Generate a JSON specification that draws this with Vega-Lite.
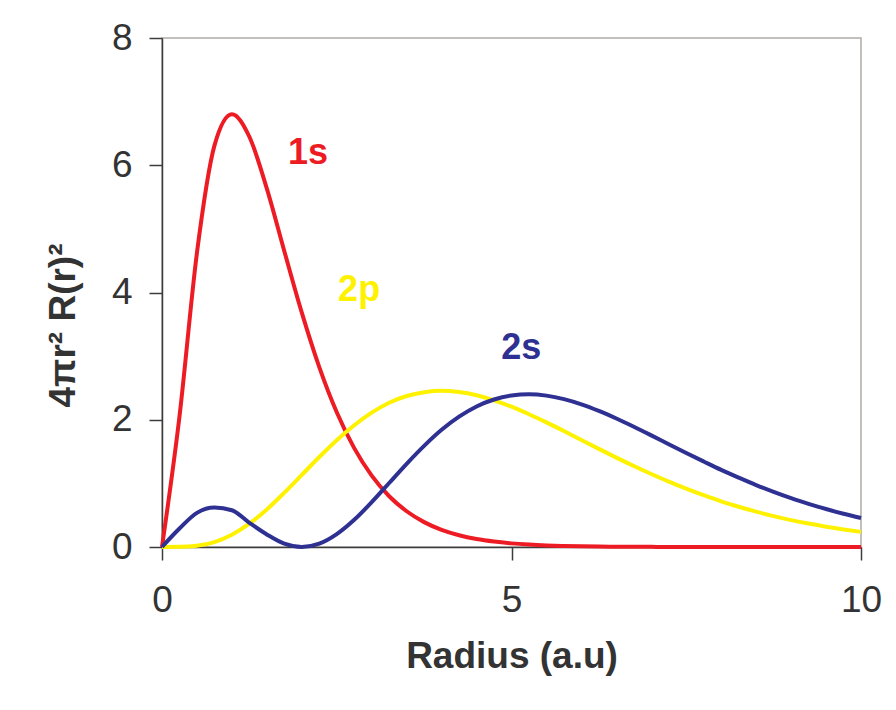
{
  "$schema": "https://vega.github.io/schema/vega-lite/v6.json",
  "width": 699,
  "height": 509,
  "autosize": "none",
  "padding": {"left": 162, "top": 38, "right": 35, "bottom": 163},
  "background": "white",
  "config": {
    "view": {"stroke": "#b3aaa6", "strokeWidth": 1.5},
    "font": "Liberation Sans",
    "axis": {
      "grid": false,
      "domainColor": "#3c3c3c",
      "domainWidth": 1.5,
      "tickColor": "#3c3c3c",
      "tickWidth": 1.5,
      "tickSize": 13,
      "labelFont": "Liberation Sans",
      "labelFontSize": 37,
      "labelColor": "#333333",
      "labelOverlap": false,
      "labelFlush": false,
      "format": "d",
      "titleFont": "Liberation Sans",
      "titleFontSize": 37,
      "titleFontWeight": "bold",
      "titleColor": "#333333"
    }
  },
  "layer": [
    {
      "data": {
        "values": [
          {"r": 0, "1s": 0, "2s": 0, "2p": 0},
          {"r": 0.25, "1s": 2.05, "2s": 0.29, "2p": 0.002},
          {"r": 0.5, "1s": 4.623, "2s": 0.536, "2p": 0.02},
          {"r": 0.75, "1s": 6.308, "2s": 0.62, "2p": 0.078},
          {"r": 1, "1s": 6.803, "2s": 0.578, "2p": 0.193},
          {"r": 1.25, "1s": 6.448, "2s": 0.38, "2p": 0.366},
          {"r": 1.5, "1s": 5.632, "2s": 0.197, "2p": 0.591},
          {"r": 1.75, "1s": 4.649, "2s": 0.052, "2p": 0.854},
          {"r": 2, "1s": 3.683, "2s": 0, "2p": 1.133},
          {"r": 2.25, "1s": 2.827, "2s": 0.052, "2p": 1.414},
          {"r": 2.5, "1s": 2.117, "2s": 0.202, "2p": 1.679},
          {"r": 2.75, "1s": 1.554, "2s": 0.427, "2p": 1.913},
          {"r": 3, "1s": 1.121, "2s": 0.704, "2p": 2.112},
          {"r": 3.25, "1s": 0.798, "2s": 1.006, "2p": 2.267},
          {"r": 3.5, "1s": 0.562, "2s": 1.308, "2p": 2.373},
          {"r": 3.75, "1s": 0.391, "2s": 1.59, "2p": 2.433},
          {"r": 4, "1s": 0.269, "2s": 1.842, "2p": 2.456},
          {"r": 4.25, "1s": 0.184, "2s": 2.048, "2p": 2.436},
          {"r": 4.5, "1s": 0.125, "2s": 2.209, "2p": 2.385},
          {"r": 4.75, "1s": 0.085, "2s": 2.318, "2p": 2.306},
          {"r": 5, "1s": 0.057, "2s": 2.381, "2p": 2.205},
          {"r": 5.25, "1s": 0.038, "2s": 2.4, "2p": 2.087},
          {"r": 5.5, "1s": 0.025, "2s": 2.379, "2p": 1.958},
          {"r": 5.75, "1s": 0.017, "2s": 2.325, "2p": 1.822},
          {"r": 6, "1s": 0.011, "2s": 2.243, "2p": 1.682},
          {"r": 6.25, "1s": 0.007, "2s": 2.139, "2p": 1.542},
          {"r": 6.5, "1s": 0.005, "2s": 2.02, "2p": 1.405},
          {"r": 6.75, "1s": 0.003, "2s": 1.891, "2p": 1.273},
          {"r": 7, "1s": 0.002, "2s": 1.755, "2p": 1.147},
          {"r": 7.25, "1s": 0.001, "2s": 1.616, "2p": 1.027},
          {"r": 7.5, "1s": 0.001, "2s": 1.478, "2p": 0.916},
          {"r": 7.75, "1s": 0, "2s": 1.344, "2p": 0.814},
          {"r": 8, "1s": 0, "2s": 1.212, "2p": 0.718},
          {"r": 8.25, "1s": 0, "2s": 1.09, "2p": 0.633},
          {"r": 8.5, "1s": 0, "2s": 0.973, "2p": 0.555},
          {"r": 8.75, "1s": 0, "2s": 0.866, "2p": 0.485},
          {"r": 9, "1s": 0, "2s": 0.767, "2p": 0.423},
          {"r": 9.25, "1s": 0, "2s": 0.679, "2p": 0.368},
          {"r": 9.5, "1s": 0, "2s": 0.597, "2p": 0.319},
          {"r": 9.75, "1s": 0, "2s": 0.523, "2p": 0.276},
          {"r": 10, "1s": 0, "2s": 0.456, "2p": 0.238}
        ]
      },
      "transform": [{"fold": ["1s", "2p", "2s"], "as": ["orbital", "density"]}],
      "mark": {"type": "line", "strokeWidth": 4, "interpolate": "monotone"},
      "encoding": {
        "x": {
          "field": "r",
          "type": "quantitative",
          "scale": {"domain": [0, 10], "nice": false},
          "axis": {"values": [0, 5, 10], "title": "Radius (a.u)", "labelPadding": 22, "titlePadding": 20}
        },
        "y": {
          "field": "density",
          "type": "quantitative",
          "scale": {"domain": [0, 8], "nice": false},
          "axis": {"values": [0, 2, 4, 6, 8], "title": "4πr² R(r)²", "labelPadding": 17, "titlePadding": 29, "titleY": 287}
        },
        "color": {
          "field": "orbital",
          "type": "nominal",
          "scale": {"domain": ["1s", "2p", "2s"], "range": ["#ed1c24", "#fff200", "#2e3192"]},
          "legend": null
        }
      }
    },
    {
      "data": {
        "values": [
          {"r": 2.09, "density": 6.19, "orbital": "1s"},
          {"r": 2.82, "density": 4.04, "orbital": "2p"},
          {"r": 5.14, "density": 3.13, "orbital": "2s"}
        ]
      },
      "mark": {"type": "text", "fontSize": 36, "fontWeight": "bold", "font": "Liberation Sans", "baseline": "middle", "align": "center"},
      "encoding": {
        "x": {"field": "r", "type": "quantitative"},
        "y": {"field": "density", "type": "quantitative"},
        "text": {"field": "orbital"},
        "color": {
          "field": "orbital",
          "type": "nominal",
          "scale": {"domain": ["1s", "2p", "2s"], "range": ["#ed1c24", "#fff200", "#2e3192"]},
          "legend": null
        }
      }
    }
  ]
}
